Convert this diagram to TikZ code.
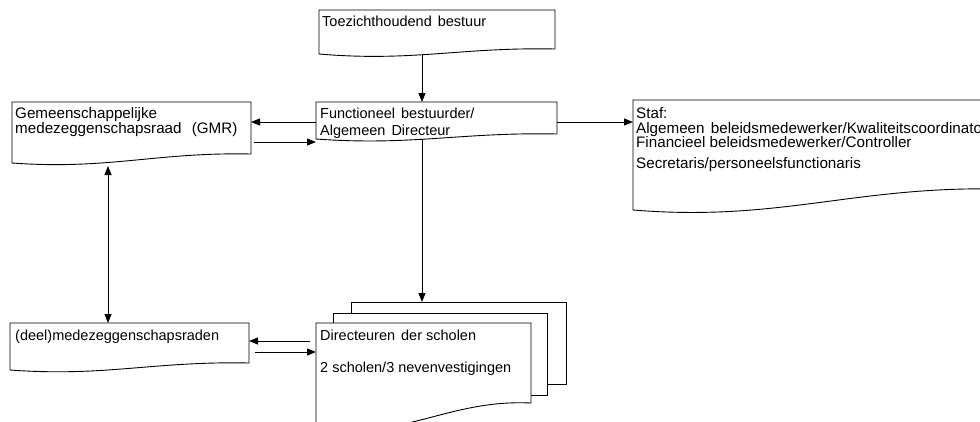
\documentclass[tikz,border=0pt]{standalone}
\usepackage{fontspec}
\setmainfont{Liberation Sans}
\usetikzlibrary{arrows.meta}
\tikzset{
  outline/.style={draw=black, line width=0.9pt, fill=white, line join=miter},
  area/.style={inner sep=0pt, outer sep=0pt, anchor=north west},
  conn/.style={draw=black, line width=0.9pt, -{Triangle[length=9pt,width=7pt]}},
  dconn/.style={draw=black, line width=0.9pt, {Triangle[length=9pt,width=7pt]}-{Triangle[length=9pt,width=7pt]}},
  lbl/.style={anchor=base west, inner sep=0pt, font=\fontsize{14.5}{17}\selectfont},
  lblb/.style={lbl, font=\fontsize{15.2}{17}\selectfont},
}
\newcommand{\wsp}{\hspace{2pt} }
\begin{document}
\begin{tikzpicture}[x=1pt,y=-1pt]
\useasboundingbox (0,0) rectangle (980,421);
\clip (0,0) rectangle (980,421);
\fill[white] (0,0) rectangle (980,421);

% ---- box areas (named) ----
\node[area, minimum width=236pt, minimum height=39pt] (tb) at (319,10) {};
\node[area, minimum width=241pt, minimum height=32pt] (fb) at (316,102) {};
\node[area, minimum width=239pt, minimum height=52pt] (gmr) at (12,102) {};
\node[area, minimum width=367pt, minimum height=89pt] (staf) at (633,100) {};
\node[area, minimum width=239pt, minimum height=40pt] (deel) at (10,323) {};
\node[area, minimum width=215pt, minimum height=82pt] (back) at (351,302) {};
\node[area, minimum width=214pt, minimum height=82pt] (mid) at (333,313) {};
\node[area, minimum width=215pt, minimum height=80pt] (dir) at (316,323) {};

% ---- outlines ----
\draw[outline] (319,10) -- (555,10) -- (555,49) .. controls (460.6,47) and (413.4,62) .. (319,54) -- cycle;
\draw[outline] (316,102) -- (557,102) -- (557,134) .. controls (460.6,132) and (412.4,146) .. (316,139) -- cycle;
\draw[outline] (12,102) -- (251,102) -- (251,154) .. controls (156.6,152) and (108.4,170) .. (12,163) -- cycle;
\draw[outline] (633,100) -- (1000,100) -- (1000,189) .. controls (853.2,186) and (779.8,222) .. (633,210) -- cycle;
\draw[outline] (10,323) -- (249,323) -- (249,363) .. controls (153.4,361) and (105.6,377) .. (10,370) -- cycle;
\draw[outline] (back.north west) rectangle (back.south east);
\draw[outline] (mid.north west) rectangle (mid.south east);
\draw[outline] (316,323) -- (531,323) -- (531,403) .. controls (445,399) and (402,443) .. (316,425) -- cycle;

% ---- texts ----
\node[lbl] (t1) at (322,26) {Toezichthoudend\wsp bestuur};
\node[lbl] (t2) at (320,118) {Functioneel\wsp bestuurder/};
\node[lbl] (t3) at (320,135) {Algemeen\wsp Directeur};
\node[lblb] (t4) at (15,118) {Gemeenschappelijke};
\node[lblb] (t5) at (15,133) {medezeggenschapsraad\hspace{6pt} (GMR)};
\node[lblb] (t6) at (636,118) {Staf:};
\node[lblb] (t7) at (636,133) {Algemeen\wsp beleidsmedewerker/Kwaliteitscoordinator};
\node[lblb] (t8) at (636,147) {Financieel beleidsmedewerker/Controller};
\node[lblb] (t9) at (636,168) {Secretaris/personeelsfunctionaris};
\node[lbl] (t10) at (15,340) {(deel)medezeggenschapsraden};
\node[lbl] (t11) at (320,340) {Directeuren\wsp der scholen};
\node[lbl] (t12) at (320,372) {2 scholen/3 nevenvestigingen};

% ---- connector end points on the wavy bottoms ----
\coordinate (tbB) at (422,55);
\coordinate (fbB) at (422,139);
\coordinate (gmrB) at (108,166);

% ---- connectors ----
\draw[conn] (tbB) -- (tbB |- fb.north);
\draw[conn] ([yshift=-20pt]fb.north west) -- ([yshift=-20pt]fb.north west -| gmr.east);
\draw[conn] ([yshift=-40pt]gmr.north east) ++(3,0) -- ([yshift=-40pt]fb.north west);
\draw[conn] ([yshift=-20pt]fb.north east) -- ([yshift=-20pt]fb.north east -| staf.west);
\draw[conn] (fbB) -- (fbB |- back.north);
\draw[dconn] (gmrB) -- (gmrB |- deel.north);
\draw[conn] ([yshift=-18pt,xshift=-6pt]dir.north west) -- ([yshift=-18pt]dir.north west -| deel.east);
\draw[conn] ([yshift=-29pt,xshift=6pt]deel.north east) -- ([yshift=-29pt]dir.north west);
\end{tikzpicture}
\end{document}
